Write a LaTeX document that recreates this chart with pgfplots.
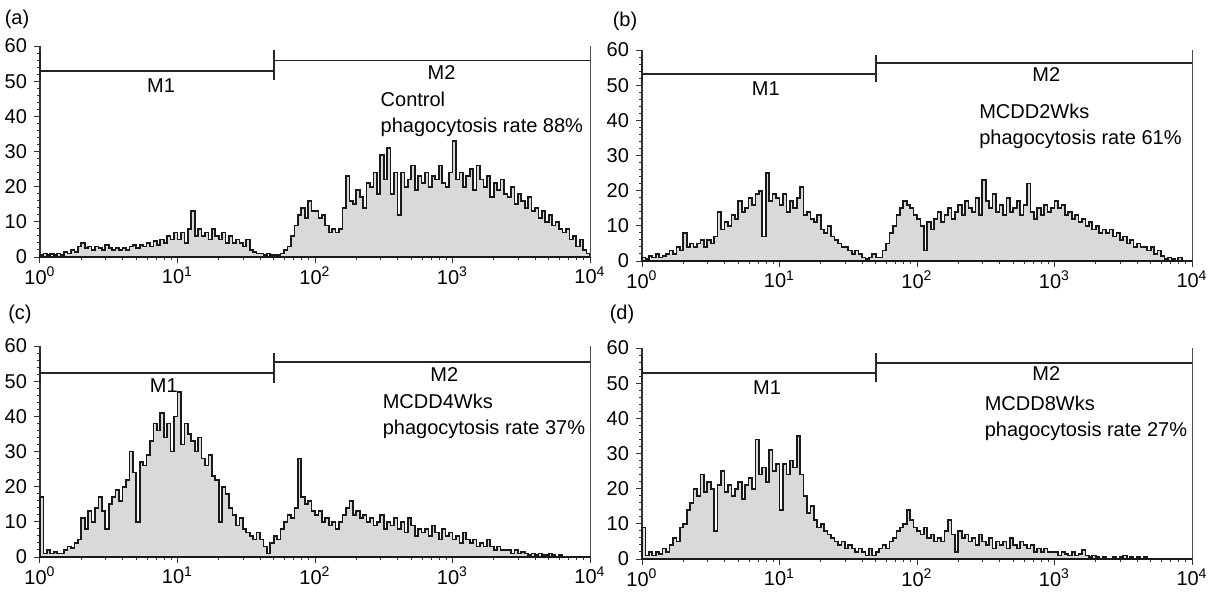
\documentclass[border=0pt]{standalone}
\usepackage{fontspec}
\setmainfont{Liberation Sans}
\usepackage{pgfplots}
\pgfplotsset{compat=1.18}

% shared look of the four histograms (x = channel, 40 channels per decade)
\pgfplotsset{facs/.style={
  scale only axis, width=275pt, height=105.5pt,
  xmin=0, xmax=160, ymin=0, ymax=60,
  axis x line*=bottom, axis y line*=left,
  xtick={0,40,80,120,160},
  xticklabels={10\textsuperscript{0},10\textsuperscript{1},10\textsuperscript{2},10\textsuperscript{3},10\textsuperscript{4}},
  minor xtick={12.04,19.08,24.08,27.96,31.13,33.80,36.12,38.17,
    52.04,59.08,64.08,67.96,71.13,73.80,76.12,78.17,
    92.04,99.08,104.08,107.96,111.13,113.80,116.12,118.17,
    132.04,139.08,144.08,147.96,151.13,153.80,156.12,158.17},
  ytick={0,10,...,60},
  minor y tick num=4,
  tick align=outside,
  major tick length=3pt, minor tick length=1.5pt,
  tick style={black!80, line width=0.5pt},
  axis line style={black!80, line width=0.7pt},
  tick label style={font=\fontsize{10}{12}\selectfont},
  xticklabel style={yshift=1.5pt},
  /pgf/number format/assume math mode=true,
  clip=false,
}}
\tikzset{
  histo/.style={const plot, fill=gray!30, draw=black!90, line width=0.85pt},
  gate/.style={black!85, line width=0.9pt},
  lab/.style={font=\fontsize{10}{13}\selectfont, inner sep=0pt},
}

\begin{document}
\begin{tikzpicture}
\useasboundingbox (0,0) rectangle (607pt,-295.5pt);

\node[lab] at (8.5pt,-9.5pt) {(a)};
\node[lab] at (312.5pt,-10.5pt) {(b)};
\node[lab] at (10pt,-157pt) {(c)};
\node[lab] at (311pt,-157pt) {(d)};

% ---------- (a) Control ----------
\begin{axis}[facs, at={(20pt,-128.5pt)}, anchor=south west]
\addplot[histo] coordinates {
(0,0.5)(1,1)(2,0.5)(3,0.8)(4,0.5)(5,1)(6,0.5)(7,1.5)
(8,1)(9,2)(10,1.5)(11,3)(12,4)(13,2.5)(14,3)(15,2)
(16,3)(17,2.5)(18,2)(19,3.5)(20,2.5)(21,2)(22,2.5)(23,2)
(24,2.5)(25,2)(26,3)(27,3.5)(28,2.5)(29,3.5)(30,3)(31,4)
(32,3)(33,4.5)(34,3.5)(35,5)(36,4)(37,6)(38,5)(39,7)
(40,5)(41,7)(42,4)(43,8)(44,13)(45,6)(46,8)(47,6)
(48,7)(49,5)(50,8)(51,6)(52,5)(53,7)(54,4)(55,6)
(56,4)(57,5)(58,4)(59,3)(60,5)(61,2)(62,1.5)(63,1)
(64,1)(65,0.5)(66,1)(67,0.5)(68,0.5)(69,0.5)(70,1)(71,2)
(72,3)(73,6)(74,9)(75,12)(76,14)(77,11)(78,16)(79,13)
(80,13)(81,11)(82,12)(83,9)(84,7)(85,8)(86,7)(87,8)
(88,14)(89,23)(90,16)(91,15)(92,19)(93,17)(94,14)(95,21)
(96,20)(97,24)(98,18)(99,29)(100,22)(101,31)(102,18)(103,24)
(104,12)(105,24)(106,20)(107,22)(108,26)(109,19)(110,23)(111,21)
(112,24)(113,20)(114,23)(115,22)(116,26)(117,21)(118,20)(119,24)
(120,33)(121,22)(122,24)(123,20)(124,23)(125,25)(126,19)(127,26)
(128,22)(129,20)(130,23)(131,17)(132,21)(133,19)(134,22)(135,18)
(136,17)(137,20)(138,15)(139,18)(140,16)(141,14)(142,17)(143,13)
(144,14)(145,11)(146,13)(147,10)(148,12)(149,9)(150,10)(151,8)
(152,7)(153,8)(154,5)(155,6)(156,3)(157,5)(158,2)(159,1)(160,0)
} \closedcycle;
\draw[gate] (axis cs:0,52.9) -- (axis cs:68,52.9);
\draw[gate] (axis cs:68,55.9) -- (axis cs:160,55.9);
\draw[gate] (axis cs:0,50.2) -- (axis cs:0,58.6);
\draw[gate] (axis cs:68,50.2) -- (axis cs:68,58.9);
\draw[black!70, line width=0.5pt] (axis cs:160,0) -- (axis cs:160,60);
\node[lab] at (axis cs:35.2,48.6) {M1};
\node[lab] at (axis cs:116.8,52.6) {M2};
\node[lab, anchor=west, align=left] at (axis cs:99,40.6) {Control\\phagocytosis rate 88\%};
\end{axis}

% ---------- (b) MCDD2Wks ----------
\begin{axis}[facs, at={(321pt,-130.5pt)}, anchor=south west]
\addplot[histo] coordinates {
(0,1)(1,0.5)(2,1.5)(3,1)(4,2)(5,1)(6,1.5)(7,2)
(8,3)(9,2)(10,4)(11,3)(12,8)(13,4)(14,5)(15,4)
(16,5)(17,6)(18,4)(19,6)(20,5)(21,7)(22,14)(23,9)
(24,11)(25,10)(26,13)(27,12)(28,17)(29,14)(30,15)(31,18)
(32,16)(33,19)(34,20)(35,7)(36,25)(37,17)(38,19)(39,18)
(40,16)(41,19)(42,14)(43,17)(44,15)(45,18)(46,21)(47,13)
(48,14)(49,12)(50,11)(51,13)(52,9)(53,8)(54,10)(55,7)
(56,6)(57,5)(58,4)(59,4)(60,3)(61,2)(62,3)(63,2)
(64,1)(65,0.5)(66,1)(67,2)(68,1)(69,1)(70,3)(71,5)
(72,8)(73,10)(74,13)(75,15)(76,17)(77,16)(78,15)(79,13)
(80,12)(81,10)(82,3)(83,11)(84,9)(85,12)(86,14)(87,11)
(88,13)(89,15)(90,12)(91,14)(92,16)(93,13)(94,17)(95,15)
(96,14)(97,18)(98,13)(99,23)(100,17)(101,15)(102,19)(103,14)
(104,16)(105,13)(106,18)(107,14)(108,15)(109,17)(110,13)(111,16)
(112,22)(113,14)(114,12)(115,15)(116,13)(117,16)(118,14)(119,15)
(120,17)(121,15)(122,16)(123,13)(124,14)(125,12)(126,13)(127,11)
(128,12)(129,10)(130,11)(131,9)(132,10)(133,8)(134,9)(135,8)
(136,9)(137,7)(138,8)(139,6)(140,7)(141,5)(142,6)(143,4)
(144,5)(145,4)(146,4)(147,3)(148,4)(149,2)(150,3)(151,1.5)
(152,0.5)(153,1)(154,0.5)(155,0)(156,1)(157,0)(158,0)(159,0)(160,0)
} \closedcycle;
\draw[gate] (axis cs:0,53.1) -- (axis cs:68,53.1);
\draw[gate] (axis cs:68,56.2) -- (axis cs:160,56.2);
\draw[gate] (axis cs:0,50.9) -- (axis cs:0,58.6);
\draw[gate] (axis cs:68,50.9) -- (axis cs:68,58.6);
\draw[black!70, line width=0.5pt] (axis cs:160,0) -- (axis cs:160,60);
\node[lab] at (axis cs:36,49) {M1};
\node[lab] at (axis cs:117.6,53) {M2};
\node[lab, anchor=west, align=left] at (axis cs:98,38.4) {MCDD2Wks\\phagocytosis rate 61\%};
\end{axis}

% ---------- (c) MCDD4Wks ----------
\begin{axis}[facs, at={(20pt,-278.5pt)}, anchor=south west]
\addplot[histo] coordinates {
(0,17)(1,1)(2,2)(3,1)(4,1.5)(5,1)(6,1)(7,2)
(8,3)(9,2.5)(10,4)(11,5)(12,11)(13,8)(14,13)(15,10)
(16,14)(17,17)(18,13)(19,8)(20,15)(21,17)(22,19)(23,16)
(24,20)(25,22)(26,30)(27,24)(28,10)(29,27)(30,26)(31,29)
(32,33)(33,38)(34,36)(35,41)(36,34)(37,38)(38,30)(39,40)
(40,47)(41,32)(42,38)(43,35)(44,33)(45,30)(46,34)(47,28)
(48,26)(49,29)(50,23)(51,22)(52,10)(53,20)(54,18)(55,14)
(56,12)(57,9)(58,11)(59,8)(60,7)(61,6)(62,5)(63,7)
(64,5)(65,3)(66,1)(67,4)(68,6)(69,5)(70,8)(71,10)
(72,12)(73,11)(74,14)(75,28)(76,17)(77,15)(78,16)(79,13)
(80,12)(81,13)(82,10)(83,11)(84,9)(85,10)(86,8)(87,10)
(88,12)(89,14)(90,16)(91,12)(92,13)(93,11)(94,12)(95,10)
(96,11)(97,9)(98,10)(99,12)(100,8)(101,10)(102,9)(103,11)
(104,8)(105,10)(106,7)(107,11)(108,9)(109,6)(110,8)(111,7)
(112,8)(113,6)(114,9)(115,7)(116,5)(117,8)(118,6)(119,7)
(120,5)(121,6)(122,4)(123,7)(124,5)(125,4)(126,5)(127,3)
(128,4)(129,3)(130,5)(131,3)(132,2)(133,3)(134,2)(135,2)
(136,2)(137,1)(138,2)(139,1)(140,1.5)(141,1)(142,0.5)(143,1)
(144,0.5)(145,1)(146,0.5)(147,0.5)(148,1)(149,0.5)(150,0)(151,0.5)
(152,0)(153,0)(154,0)(155,0)(156,0)(157,0)(158,0)(159,0)(160,0)
} \closedcycle;
\draw[gate] (axis cs:0,52.3) -- (axis cs:68,52.3);
\draw[gate] (axis cs:68,55.4) -- (axis cs:160,55.4);
\draw[gate] (axis cs:0,49.5) -- (axis cs:0,57.8);
\draw[gate] (axis cs:68,49.5) -- (axis cs:68,58);
\draw[black!70, line width=0.5pt] (axis cs:160,0) -- (axis cs:160,60);
\node[lab] at (axis cs:36,48.7) {M1};
\node[lab] at (axis cs:117.6,51.8) {M2};
\node[lab, anchor=west, align=left] at (axis cs:99.6,39.9) {MCDD4Wks\\phagocytosis rate 37\%};
\end{axis}

% ---------- (d) MCDD8Wks ----------
\begin{axis}[facs, at={(321pt,-279.5pt)}, anchor=south west]
\addplot[histo] coordinates {
(0,9)(1,1)(2,2)(3,1)(4,2)(5,1.5)(6,3)(7,2)
(8,4)(9,6)(10,5)(11,9)(12,10)(13,14)(14,16)(15,20)
(16,18)(17,24)(18,19)(19,22)(20,20)(21,8)(22,21)(23,25)
(24,19)(25,21)(26,18)(27,20)(28,22)(29,17)(30,21)(31,23)
(32,20)(33,34)(34,24)(35,26)(36,22)(37,31)(38,25)(39,27)
(40,14)(41,27)(42,24)(43,28)(44,26)(45,35)(46,24)(47,18)
(48,13)(49,15)(50,11)(51,9)(52,10)(53,8)(54,7)(55,6)
(56,5)(57,4)(58,5)(59,3)(60,4)(61,3)(62,2)(63,3)
(64,2)(65,1)(66,3)(67,1)(68,2)(69,3)(70,4)(71,3)
(72,5)(73,6)(74,8)(75,9)(76,10)(77,14)(78,11)(79,9)
(80,8)(81,7)(82,9)(83,6)(84,7)(85,5)(86,6)(87,5)
(88,8)(89,11)(90,7)(91,2)(92,8)(93,6)(94,7)(95,5)
(96,6)(97,4)(98,7)(99,5)(100,4)(101,6)(102,3)(103,5)
(104,4)(105,5)(106,3)(107,6)(108,4)(109,3)(110,5)(111,4)
(112,3)(113,4)(114,2)(115,3)(116,2)(117,3)(118,2)(119,2)
(120,2)(121,1)(122,2)(123,1.5)(124,1)(125,2)(126,1)(127,1.5)
(128,2.5)(129,1)(130,0.5)(131,1)(132,0.5)(133,0)(134,0.5)(135,0)
(136,0)(137,0.5)(138,0)(139,0.5)(140,1)(141,0)(142,0.5)(143,0)
(144,0.5)(145,0)(146,0.5)(147,0)(148,0)(149,0)(150,0)(151,0)
(152,0)(153,0)(154,0)(155,0)(156,0)(157,0)(158,0)(159,0)(160,0)
} \closedcycle;
\draw[gate] (axis cs:0,52.9) -- (axis cs:68,52.9);
\draw[gate] (axis cs:68,55.8) -- (axis cs:160,55.8);
\draw[gate] (axis cs:0,50.2) -- (axis cs:0,58.3);
\draw[gate] (axis cs:68,50.2) -- (axis cs:68,58.6);
\draw[black!70, line width=0.5pt] (axis cs:160,0) -- (axis cs:160,60);
\node[lab] at (axis cs:36.4,48.7) {M1};
\node[lab] at (axis cs:117.6,52.7) {M2};
\node[lab, anchor=west, align=left] at (axis cs:99.6,39.9) {MCDD8Wks\\phagocytosis rate 27\%};
\end{axis}
\end{tikzpicture}
\end{document}
